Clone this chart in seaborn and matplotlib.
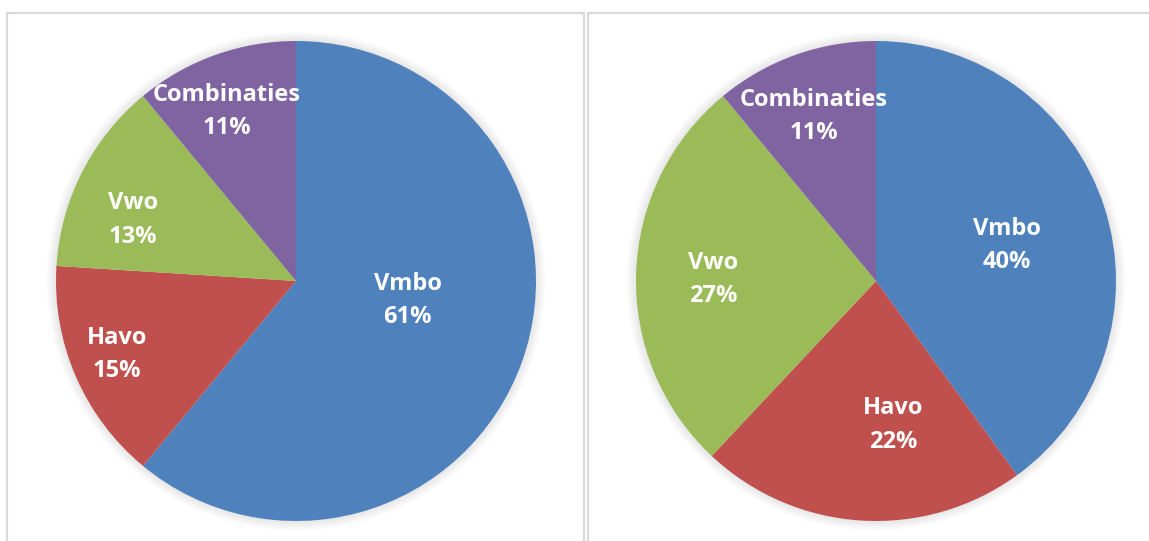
import matplotlib
matplotlib.use("Agg")
import matplotlib.pyplot as plt
import seaborn as sns
import numpy as np
from matplotlib.patches import Rectangle, Circle

sns.set_theme(style="white")
plt.rcParams['font.family'] = ['Open Sans', 'DejaVu Sans']

categories = ["Vmbo", "Havo", "Vwo", "Combinaties"]
values_left = [61, 15, 13, 11]
values_right = [40, 22, 27, 11]
colors = ["#4F81BD", "#C0504D", "#9BBB59", "#8064A2"]

# label placement style (radius factor, angle offset in degrees)
label_r_left = [0.47, 0.80, 0.73, 0.775]
label_da_left = [11.5, -2.0, 5.5, 2.0]
label_r_right = [0.57, 0.59, 0.68, 0.745]
label_da_right = [-1.5, 10.5, 0.0, 0.5]

W, H = 1149, 541
fig = plt.figure(figsize=(W / 100, H / 100), dpi=100)
fig.patch.set_facecolor("white")

# panel borders
for (x0, x1) in [(7, 584), (588, 1160)]:
    fig.add_artist(Rectangle((x0 / W, -0.05), (x1 - x0) / W, (H - 13) / H + 0.05,
                             transform=fig.transFigure, fill=False,
                             edgecolor="#D9D9D9", linewidth=1.6, zorder=0))

def draw_pie(cx, cy, r, vals, rads, das):
    ax = fig.add_axes([(cx - r) / W, (H - cy - r) / H, 2 * r / W, 2 * r / H])
    ax.axis("off")
    # soft shadow
    for i in range(8):
        rr = 1.0 + 0.005 * (i + 1)
        ax.add_patch(Circle((0, 0), rr, color="black", alpha=0.010, lw=0, zorder=0,
                            clip_on=False))
    wedges, _ = ax.pie(vals, colors=colors, startangle=90, counterclock=False,
                       radius=1.0, wedgeprops=dict(linewidth=0))
    ax.set_xlim(-1, 1)
    ax.set_ylim(-1, 1)
    ax.set_aspect("equal")
    for w, cat, v, rf, da in zip(wedges, categories, vals, rads, das):
        mid = np.deg2rad((w.theta1 + w.theta2) / 2 + da)
        ax.annotate(f"{cat}\n{v}%", xy=(rf * np.cos(mid), rf * np.sin(mid)),
                    xytext=(0, -2.4), textcoords="offset points",
                    ha="center", va="center", color="white", fontsize=17,
                    fontweight="bold", linespacing=1.52)
    return ax

draw_pie(296, 281, 240, values_left, label_r_left, label_da_left)
draw_pie(876, 281, 240, values_right, label_r_right, label_da_right)

fig.savefig("out.png", dpi=100, facecolor="white")
